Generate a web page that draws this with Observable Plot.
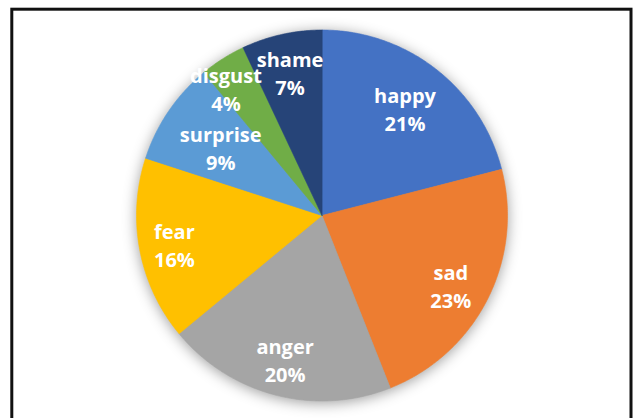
<!DOCTYPE html>
<html>
<head>
<meta charset="utf-8">
<script src="https://cdn.jsdelivr.net/npm/d3@7"></script>
<script src="https://cdn.jsdelivr.net/npm/@observablehq/plot@0.6"></script>
<style>
  html, body { margin: 0; padding: 0; background: #fff; }
  #chart svg { display: block; }
  #chart svg g[aria-label="line"] { filter: drop-shadow(0px 2px 7px rgba(0,0,0,0.38)); }
</style>
</head>
<body>
<div id="chart"></div>
<script>
// Data
const emotions = ["happy", "sad", "anger", "fear", "surprise", "disgust", "shame"];
const shares = [21, 23, 20, 16, 9, 4, 7];
const colors = ["#4472C4", "#ED7D31", "#A5A5A5", "#FFC000", "#5B9BD5", "#70AD47", "#264478"];

// Layout: label placement (Excel best-fit look): distance as fraction of radius, angular nudge in degrees
const labelRadius = [0.73, 0.79, 0.80, 0.81, 0.66, 0.86, 0.79];
const labelNudge = [0, 1.5, 0, 0, 0, -4.6, 0];

const arcs = d3.pie().sort(null).value(d => d)(shares);

const slicePts = [];
arcs.forEach((a, i) => {
  const name = emotions[i];
  slicePts.push({name, x: 0, y: 0});
  const n = Math.max(2, Math.ceil((a.endAngle - a.startAngle) / 0.01));
  for (let k = 0; k <= n; k++) {
    const t = a.startAngle + (a.endAngle - a.startAngle) * k / n;
    slicePts.push({name, x: Math.sin(t), y: Math.cos(t)});
  }
});

const labels = arcs.map((a, i) => {
  const m = (a.startAngle + a.endAngle) / 2 + labelNudge[i] * Math.PI / 180;
  return {
    name: emotions[i],
    x: labelRadius[i] * Math.sin(m),
    y: labelRadius[i] * Math.cos(m),
    text: `${emotions[i]}\n${shares[i]}%`
  };
});

const cx = 321.5, cy = 215, R = 185.5;

const chart = Plot.plot({
  width: 636,
  height: 418,
  margin: 0,
  style: {background: "#fff"},
  x: {domain: [-1, 1], range: [cx - R, cx + R], axis: null},
  y: {domain: [-1, 1], range: [cy + R, cy - R], axis: null},
  color: {domain: emotions, range: colors},
  marks: [
    Plot.frame({stroke: "#111", strokeWidth: 3, insetLeft: 11.3, insetRight: 5.5, insetTop: 8.7, insetBottom: -4}),
    Plot.line(slicePts, {x: "x", y: "y", z: "name", fill: "name", stroke: "name", strokeWidth: 0.6, curve: "linear-closed"}),
    Plot.text(labels, {
      x: "x", y: "y", text: "text",
      fill: "white", fontSize: 20, fontWeight: 700, fontFamily: "Open Sans",
      lineHeight: 1.4
    })
  ]
});

document.getElementById("chart").appendChild(chart);
</script>
</body>
</html>
